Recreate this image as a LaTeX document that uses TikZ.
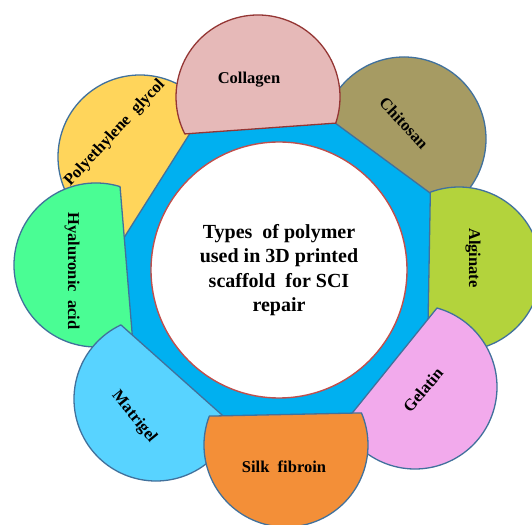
\documentclass[tikz,border=0pt]{standalone}
\usepackage{fontspec}
\setmainfont{Liberation Serif}
\usetikzlibrary{calc}

\definecolor{ringblue}{HTML}{00B0F0}
\definecolor{edgeblue}{HTML}{41719C}
\definecolor{collagenfill}{HTML}{E6B9B8}
\definecolor{collagenline}{HTML}{943634}
\definecolor{chitosanfill}{HTML}{A69B63}
\definecolor{alginatefill}{HTML}{B3D33C}
\definecolor{gelatinfill}{HTML}{F2AAEC}
\definecolor{silkfill}{HTML}{F38F38}
\definecolor{matrigelfill}{HTML}{58D3FF}
\definecolor{hyalfill}{HTML}{4AFD94}
\definecolor{pegfill}{HTML}{FFD55B}
\definecolor{hubline}{HTML}{C0504D}

% petal = circle of radius 82pt cut by a chord at distance d from its centre
% \petalpts{name}{cx}{cy}{outward angle}{d}: chord end points
\newcommand\petalpts[5]{%
  \coordinate (#1c) at (#2,#3);
  \pgfmathsetmacro\hspan{180-acos(#5/82)}%
  \coordinate (#1a) at ($(#1c)+({#4-\hspan}:82pt)$);
  \coordinate (#1b) at ($(#1c)+({#4+\hspan}:82pt)$);
}
% \petaldraw{name}{outward angle}{d}{fill}{line}
\newcommand\petaldraw[5]{%
  \pgfmathsetmacro\hspan{180-acos(#3/82)}%
  \pgfmathsetmacro\sa{#2-\hspan}%
  \pgfmathsetmacro\ea{#2+\hspan}%
  \filldraw[petal, fill=#4, draw=#5] (#1a) arc[start angle=\sa, end angle=\ea, radius=82pt] -- cycle;
}

\tikzset{
  petal/.style={line width=1.3pt, line join=round},
  petallabel/.style={font=\bfseries\fontsize{16.5}{18}\selectfont, inner sep=0pt},
  hublabel/.style={font=\bfseries\fontsize{20}{24.5}\selectfont, align=center, inner sep=0pt},
}

\begin{document}
\begin{tikzpicture}[x=1pt, y=1pt]
\useasboundingbox (0,0) rectangle (532,524);

% chord end points of the eight petals
\petalpts{col}{258}{427}{94.1}{31.6}
\petalpts{chi}{404}{385}{53.6}{28}
\petalpts{alg}{459}{255}{-1}{30}
\petalpts{gel}{415}{137}{-38.9}{32.5}
\petalpts{sil}{286}{79}{-88.8}{30.5}
\petalpts{mat}{156}{125}{-131.7}{32}
\petalpts{hya}{96}{259}{-175.3}{30.4}
\petalpts{peg}{140}{367}{-212.3}{29.6}

% octagon formed by the chord lines
\fill[ringblue]
  (intersection of cola--colb and chia--chib) --
  (intersection of chia--chib and alga--algb) --
  (intersection of alga--algb and gela--gelb) --
  (intersection of gela--gelb and sila--silb) --
  (intersection of sila--silb and mata--matb) --
  (intersection of mata--matb and hyaa--hyab) --
  (intersection of hyaa--hyab and pega--pegb) --
  (intersection of pega--pegb and cola--colb) -- cycle;

% petals, back to front
\petaldraw{peg}{-212.3}{29.6}{pegfill}{edgeblue}
\petaldraw{chi}{53.6}{28}{chitosanfill}{edgeblue}
\petaldraw{alg}{-1}{30}{alginatefill}{edgeblue}
\petaldraw{hya}{-175.3}{30.4}{hyalfill}{edgeblue}
\petaldraw{gel}{-38.9}{32.5}{gelatinfill}{edgeblue}
\petaldraw{mat}{-131.7}{32}{matrigelfill}{edgeblue}
\petaldraw{sil}{-88.8}{30.5}{silkfill}{edgeblue}
\petaldraw{col}{94.1}{31.6}{collagenfill}{collagenline}

% central disc
\filldraw[fill=white, draw=hubline, line width=1.4pt] (279,254) circle[radius=128pt];
\node[hublabel] (hub) at (279,254) {Types\ \ of polymer\\used in 3D printed\\scaffold\ \ for SCI\\repair};

% petal labels
\node[petallabel] (lcol) at (249,444) {Collagen};
\node[petallabel, rotate=-47] (lchi) at (404,401) {Chitosan};
\node[petallabel, rotate=-90] (lalg) at (473,266) {Alginate};
\node[petallabel, rotate=50] (lgel) at (423,134) {Gelatin};
\node[petallabel] (lsil) at (284,57) {Silk\ \ fibroin};
\node[petallabel, rotate=-51] (lmat) at (134,107) {Matrigel};
\node[petallabel, rotate=-90] (lhya) at (72,253) {Hyaluronic\ \ acid};
\node[petallabel, rotate=47] (lpeg) at (115,391) {Polyethylene\ \ glycol};
\end{tikzpicture}
\end{document}
